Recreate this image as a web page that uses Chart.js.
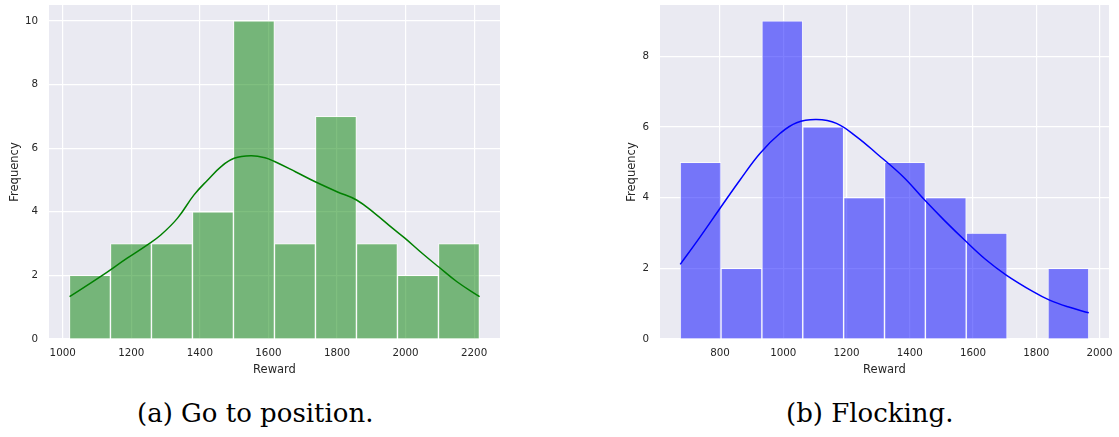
<!DOCTYPE html>
<html>
<head>
<meta charset="utf-8">
<script src="https://cdn.jsdelivr.net/npm/chart.js@4.4.1/dist/chart.umd.min.js"></script>
<style>
  html, body { margin: 0; padding: 0; background: #ffffff; }
  body { width: 1119px; height: 437px; position: relative; overflow: hidden; }
  canvas { position: absolute; top: 0; }
  #c1 { left: 0px; }
  #c2 { left: 617px; }
  .cap { position: absolute; top: 400px; font-family: "DejaVu Serif", serif; font-size: 26px; line-height: 26px; color: #000; white-space: nowrap; }
  #capA { left: 137px; }
  #capB { left: 786px; }
</style>
</head>
<body>
<canvas id="c1" width="510" height="380"></canvas>
<canvas id="c2" width="502" height="380"></canvas>
<div class="cap" id="capA">(a) Go to position.</div>
<div class="cap" id="capB">(b) Flocking.</div>
<script>
// ---------- Data: (a) Go to position ----------
const goBinEdges = [1019.6, 1139.2, 1258.8, 1378.4, 1498.0, 1617.6, 1737.2, 1856.8, 1976.4, 2096.0, 2215.6];
const goCounts   = [2, 3, 3, 4, 10, 3, 7, 3, 2, 3];
const goKdeX = [1020, 1110, 1188, 1247, 1286, 1335, 1383, 1423, 1462, 1500, 1549, 1590, 1618, 1680, 1735, 1800, 1857, 1910, 1960, 1998, 2050, 2096, 2150, 2216];
const goKdeY = [1.33, 1.96, 2.54, 2.96, 3.27, 3.80, 4.53, 5.00, 5.42, 5.68, 5.76, 5.70, 5.58, 5.25, 4.95, 4.63, 4.37, 3.95, 3.50, 3.17, 2.68, 2.27, 1.80, 1.33];
const goXTicks = [1000, 1200, 1400, 1600, 1800, 2000, 2200];
const goYTicks = [0, 2, 4, 6, 8, 10];
const goXRange = [960, 2275.5];
const goYRange = [0, 10.5];

// ---------- Data: (b) Flocking ----------
const flockBinEdges = [673.7, 803.0, 932.2, 1061.5, 1190.7, 1320.0, 1449.3, 1578.5, 1707.8, 1837.0, 1966.3];
const flockCounts   = [5, 2, 9, 6, 4, 5, 4, 3, 0, 2];
const flockKdeX = [674, 737, 800, 863, 926, 990, 1042, 1105, 1168, 1232, 1295, 1379, 1447, 1510, 1579, 1640, 1705, 1790, 1842, 1900, 1966];
const flockKdeY = [2.11, 2.89, 3.70, 4.50, 5.25, 5.82, 6.12, 6.21, 6.10, 5.72, 5.25, 4.59, 3.93, 3.35, 2.75, 2.25, 1.81, 1.34, 1.10, 0.91, 0.74];
const flockXTicks = [800, 1000, 1200, 1400, 1600, 1800, 2000];
const flockYTicks = [0, 2, 4, 6, 8];
const flockXRange = [610, 2030];
const flockYRange = [0, 9.45];

const TEXT = '#262626';
const TICK_FONT = { family: 'DejaVu Sans', size: 10.3 };
const TITLE_FONT = { family: 'DejaVu Sans', size: 11.5 };

const bgPlugin = {
  id: 'axesBg',
  beforeDraw(chart) {
    const { ctx, chartArea: a } = chart;
    ctx.save();
    ctx.fillStyle = '#eaeaf2';
    ctx.fillRect(a.left, a.top, a.right - a.left, a.bottom - a.top);
    ctx.restore();
  }
};

function zeroPad(s) { s.paddingTop = 0; s.paddingBottom = 0; s.paddingLeft = 0; s.paddingRight = 0; }

function makeChart(id, edges, counts, kdeX, kdeY, xTicks, yTicks, xRange, yRange, barColor, lineColor, yAxisWidth) {
  const bars = counts.map((c, i) => ({ x: (edges[i] + edges[i + 1]) / 2, y: c }));
  const kde = kdeX.map((x, i) => ({ x: x, y: kdeY[i] }));
  return new Chart(document.getElementById(id), {
    type: 'bar',
    data: {
      datasets: [
        {
          type: 'line',
          data: kde,
          borderColor: lineColor,
          borderWidth: 1.5,
          pointRadius: 0,
          fill: false,
          tension: 0.4,
          order: 0
        },
        {
          type: 'bar',
          data: bars,
          backgroundColor: barColor,
          borderColor: 'rgba(255,255,255,0.7)',
          borderWidth: 1,
          barPercentage: 1,
          categoryPercentage: 1,
          order: 1
        }
      ]
    },
    options: {
      responsive: false,
      animation: false,
      devicePixelRatio: 1,
      layout: { autoPadding: false, padding: { left: 0, right: 10, top: 5, bottom: 0 } },
      plugins: { legend: { display: false }, tooltip: { enabled: false } },
      scales: {
        x: {
          type: 'linear',
          offset: false,
          min: xRange[0],
          max: xRange[1],
          afterBuildTicks(s) { s.ticks = xTicks.map(v => ({ value: v })); },
          afterFit(s) { s.height = 41; zeroPad(s); },
          grid: { color: '#ffffff', lineWidth: 1.2, drawTicks: false, offset: false },
          border: { display: false },
          ticks: { color: TEXT, font: TICK_FONT, padding: 8, maxRotation: 0, autoSkip: false, callback: v => String(v) },
          title: { display: true, text: 'Reward', color: TEXT, font: TITLE_FONT, padding: { top: 0, bottom: 3 } }
        },
        y: {
          type: 'linear',
          min: yRange[0],
          max: yRange[1],
          afterBuildTicks(s) { s.ticks = yTicks.map(v => ({ value: v })); },
          afterFit(s) { s.width = yAxisWidth; zeroPad(s); },
          grid: { color: '#ffffff', lineWidth: 1.2, drawTicks: false },
          border: { display: false },
          ticks: { color: TEXT, font: TICK_FONT, padding: 11, autoSkip: false, callback: v => String(v) },
          title: { display: true, text: 'Frequency', color: TEXT, font: TITLE_FONT, padding: { top: 8, bottom: 0 } }
        }
      }
    },
    plugins: [bgPlugin]
  });
}

makeChart('c1', goBinEdges, goCounts, goKdeX, goKdeY, goXTicks, goYTicks, goXRange, goYRange,
          'rgba(0,128,0,0.5)', '#008000', 49);
makeChart('c2', flockBinEdges, flockCounts, flockKdeX, flockKdeY, flockXTicks, flockYTicks, flockXRange, flockYRange,
          'rgba(0,0,255,0.5)', '#0000ff', 43);
</script>
</body>
</html>
